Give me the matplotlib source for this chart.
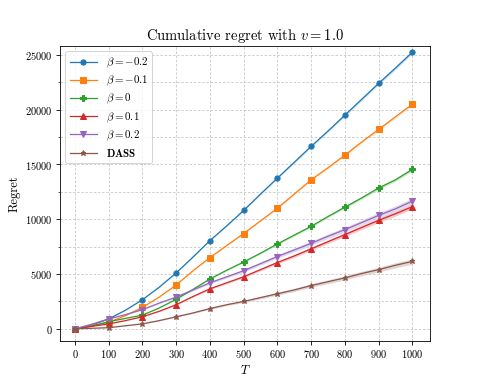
import matplotlib
matplotlib.use("Agg")
import matplotlib.pyplot as plt
from matplotlib.ticker import MultipleLocator
import numpy as np

plt.rcParams['font.family'] = 'serif'
plt.rcParams['font.serif'] = ['cmr10']
plt.rcParams['mathtext.fontset'] = 'cm'
plt.rcParams['axes.formatter.use_mathtext'] = True

# horizon T, sampled every 50 rounds
T = [0, 50, 100, 150, 200, 250, 300, 350, 400, 450, 500,
     550, 600, 650, 700, 750, 800, 850, 900, 950, 1000]

regret_m02 = [0, 350, 900, 1700, 2650, 3800, 5100, 6550, 8050, 9400, 10800,
              12300, 13750, 15200, 16650, 18050, 19500, 20950, 22400, 23800, 25250]
regret_m01 = [0, 280, 600, 1200, 1950, 2900, 4000, 5300, 6500, 7600, 8700,
              9850, 11000, 12300, 13600, 14700, 15850, 17050, 18200, 19350, 20500]
regret_0 = [0, 250, 650, 950, 1250, 1900, 2700, 3600, 4550, 5350, 6100,
            6900, 7750, 8550, 9350, 10250, 11100, 11950, 12850, 13600, 14550]
regret_p01 = [0, 220, 450, 750, 1100, 1600, 2200, 2950, 3650, 4200, 4750,
              5400, 6050, 6650, 7300, 7950, 8600, 9250, 9900, 10500, 11150]
regret_p02 = [0, 420, 900, 1300, 1750, 2350, 2900, 3550, 4200, 4750, 5300,
              5950, 6600, 7200, 7800, 8450, 9050, 9700, 10350, 10950, 11650]
regret_dass = [0, 50, 100, 280, 450, 750, 1100, 1450, 1850, 2200, 2500,
               2850, 3200, 3550, 3950, 4300, 4650, 5050, 5400, 5800, 6150]

labels = [r'$\beta = -0.2$', r'$\beta = -0.1$', r'$\beta = 0$',
          r'$\beta = 0.1$', r'$\beta = 0.2$', r'$\mathbf{DASS}$']
# relative half-width of the shaded band
spread = [0.005, 0.005, 0.01, 0.02, 0.025, 0.04]

series = [regret_m02, regret_m01, regret_0, regret_p01, regret_p02, regret_dass]
colors = ['#1f77b4', '#ff7f0e', '#2ca02c', '#d62728', '#9467bd', '#8c564b']
markers = ['o', 's', 'P', '^', 'v', '*']

fig, ax = plt.subplots(figsize=(6.373, 5.107), dpi=75)

t = np.array(T)
for vals, lab, c, m, s in zip(series, labels, colors, markers, spread):
    y = np.array(vals, dtype=float)
    ax.fill_between(t, y * (1 - s), y * (1 + s), color=c, alpha=0.25, linewidth=0)
    ax.plot(t, y, color=c, marker=m, markevery=2, markersize=5, linewidth=1.2, label=lab)

ax.set_xticks(range(0, 1001, 100))
ax.set_xlim(-45, 1053)
ax.set_ylim(-1100, 25820)
ax.yaxis.set_major_locator(MultipleLocator(5000))
ax.yaxis.set_minor_locator(MultipleLocator(2500))
ax.grid(True, which='both', linestyle=(0, (3, 2)), color='#c8c8c8', linewidth=0.8)
ax.set_xlabel(r'$T$', fontsize=12)
ax.set_ylabel('Regret', fontsize=12)
ax.set_title(r'Cumulative regret with $v = 1.0$', fontsize=14)
ax.legend(loc='upper left', fontsize=10.5, labelspacing=0.35, handlelength=2.5)

fig.savefig('out.png', dpi=75)
